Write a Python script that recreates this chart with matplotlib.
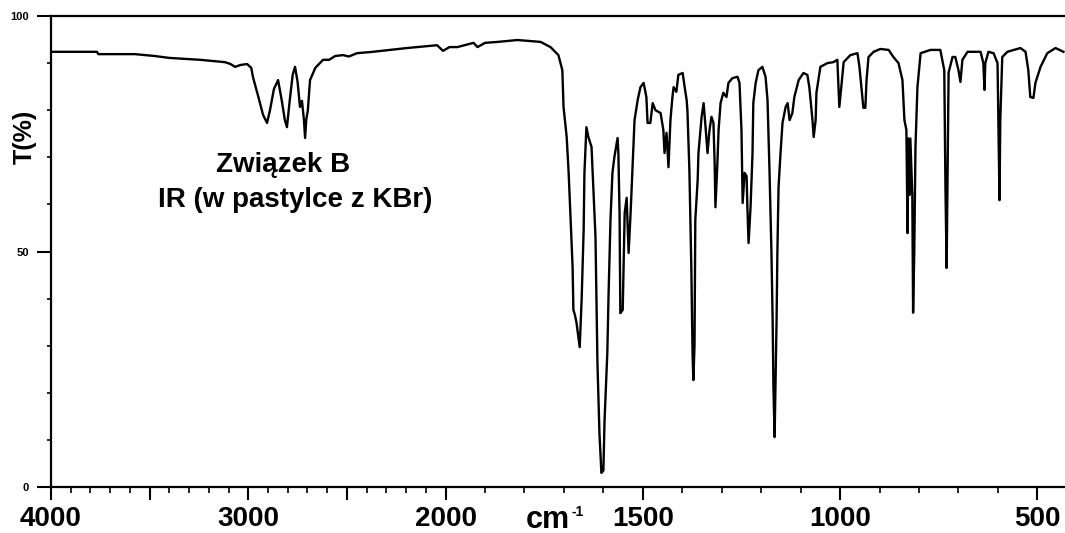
import numpy as np
import matplotlib.pyplot as plt
from matplotlib.ticker import FixedLocator, FixedFormatter

plt.rcParams['font.family'] = ['Liberation Sans', 'DejaVu Sans']
plt.rcParams['font.weight'] = 'bold'

# IR spectrum, compound B (KBr pellet)
wavenumber = [
    3995, 3767, 3760, 3574, 3473, 3400, 3245, 3118, 3090, 3067, 3040, 3006,
    2985, 2976, 2950, 2925, 2905, 2890, 2870, 2849, 2830, 2815, 2804, 2790,
    2775, 2763, 2750, 2738, 2728, 2718, 2712, 2706, 2698, 2687, 2660, 2621,
    2590, 2560, 2520, 2490, 2449, 2368, 2195, 2043, 2013, 1990, 1970, 1929,
    1919, 1900, 1868, 1818, 1759, 1734, 1714, 1704, 1701, 1693, 1688, 1683,
    1678, 1676, 1672, 1668, 1660, 1655, 1650, 1648, 1643, 1638, 1630, 1625,
    1620, 1615, 1610, 1605, 1600, 1597, 1590, 1587, 1582, 1577, 1572, 1564,
    1562, 1559, 1557, 1551, 1546, 1541, 1539, 1536, 1531, 1526, 1521, 1513,
    1506, 1498, 1491, 1488, 1481, 1475, 1468, 1455, 1448, 1445, 1440, 1435,
    1430, 1425, 1422, 1415, 1410, 1399, 1394, 1389, 1387, 1382, 1377, 1374,
    1372, 1369, 1367, 1361, 1359, 1351, 1346, 1341, 1336, 1331, 1326, 1321,
    1318, 1316, 1311, 1308, 1303, 1296, 1288, 1283, 1273, 1260, 1255, 1250,
    1247, 1242, 1237, 1235, 1232, 1227, 1222, 1220, 1214, 1207, 1197, 1189,
    1184, 1179, 1174, 1171, 1169, 1166, 1164, 1161, 1159, 1156, 1151, 1146,
    1138, 1133, 1128, 1121, 1116, 1105, 1093, 1083, 1078, 1070, 1067, 1062,
    1060, 1050, 1032, 1017, 1007, 1004, 1002, 997, 991, 974, 956, 951,
    946, 941, 936, 933, 928, 915, 898, 877, 865, 852, 842, 837,
    832, 829, 827, 824, 822, 817, 815, 812, 809, 804, 796, 771,
    746, 736, 733, 730, 728, 725, 715, 708, 700, 695, 690, 677,
    644, 637, 634, 632, 624, 611, 601, 599, 596, 594, 589, 576,
    543, 530, 523, 518, 510, 505, 492, 475, 454, 434,
]
transmittance = [
    92.4, 92.4, 91.9, 91.9, 91.5, 91.1, 90.7, 90.2, 89.8, 89.2, 89.6, 89.8,
    89.0, 87.0, 83.0, 79.0, 77.3, 80.0, 84.5, 86.4, 82.0, 78.0, 76.4, 82.0,
    87.5, 89.2, 86.0, 80.7, 82.0, 78.0, 74.1, 78.0, 80.0, 86.4, 89.0, 90.7,
    90.7, 91.5, 91.7, 91.4, 92.1, 92.4, 93.2, 93.8, 92.6, 93.4, 93.4, 94.3,
    93.4, 94.3, 94.5, 94.9, 94.5, 93.4, 91.7, 88.5, 80.7, 74.3, 66.7, 56.7,
    46.7, 37.6, 36.5, 34.8, 29.7, 40.0, 54.6, 66.7, 76.4, 74.3, 72.2, 62.4,
    53.1, 26.3, 11.5, 3.0, 3.5, 14.2, 28.5, 40.3, 56.7, 66.7, 70.1, 74.1,
    70.9, 58.2, 36.9, 37.6, 58.2, 61.4, 56.7, 49.7, 58.2, 67.9, 77.9, 82.2,
    84.9, 85.8, 82.8, 77.3, 77.3, 81.5, 80.0, 79.4, 75.8, 70.9, 75.2, 67.9,
    77.9, 82.8, 84.9, 83.9, 87.5, 87.9, 84.9, 82.2, 80.0, 67.3, 46.1, 28.5,
    22.7, 30.0, 56.7, 65.2, 70.9, 78.6, 81.5, 76.4, 70.9, 75.8, 78.6, 77.3,
    68.8, 59.4, 68.8, 75.8, 81.5, 83.7, 82.8, 85.8, 86.8, 87.1, 85.8, 75.8,
    60.3, 66.7, 66.0, 59.4, 51.8, 59.4, 70.9, 81.5, 85.8, 88.5, 89.2, 87.1,
    82.2, 67.3, 49.7, 35.5, 21.2, 10.6, 21.0, 35.5, 49.7, 63.7, 70.9, 77.3,
    80.7, 81.5, 77.9, 79.4, 82.8, 86.4, 87.9, 87.5, 84.9, 77.9, 74.3, 77.9,
    83.7, 89.2, 90.0, 90.2, 90.7, 84.9, 80.7, 84.9, 90.2, 91.7, 92.1, 89.2,
    84.9, 80.5, 80.5, 86.4, 91.3, 92.4, 93.0, 92.8, 91.3, 90.0, 86.4, 77.9,
    75.8, 53.9, 74.0, 62.0, 74.0, 62.0, 37.0, 50.0, 72.2, 84.9, 92.1, 92.8,
    92.8, 88.5, 63.7, 46.5, 63.7, 88.0, 91.3, 91.3, 88.5, 86.0, 90.7, 92.4,
    92.4, 90.0, 84.3, 90.0, 92.4, 92.1, 90.0, 77.9, 60.9, 78.0, 91.3, 92.4,
    93.2, 92.4, 88.5, 82.8, 82.6, 85.8, 89.2, 92.1, 93.2, 92.4,
]

major_ticks = [4000, 3500, 3000, 2500, 2000, 1500, 1000, 500]
major_labels = ['4000', '', '3000', '', '2000', '1500', '1000', '500']
y_ticks = [0, 50, 100]


# below 2000 cm-1 the axis is expanded twice
def fwd(w):
    w = np.asarray(w, dtype=float)
    return np.where(w >= 2000, w, 2 * w - 2000)


def inv(u):
    u = np.asarray(u, dtype=float)
    return np.where(u >= 2000, u, (u + 2000) / 2)


fig = plt.figure(figsize=(10.65, 5.33), dpi=100)
ax = fig.add_axes([51 / 1065, 46 / 533, 1 - 51 / 1065, 471 / 533])

ax.plot(wavenumber, transmittance, color='black', lw=1.7)

ax.set_xscale('function', functions=(fwd, inv))
ax.set_xlim(4000, 430)
ax.set_ylim(0, 100)

ax.xaxis.set_major_locator(FixedLocator(major_ticks))
ax.xaxis.set_major_formatter(FixedFormatter(major_labels))
ax.xaxis.set_minor_locator(FixedLocator(np.arange(4000, 400, -100)))
ax.yaxis.set_major_locator(FixedLocator(y_ticks))
ax.yaxis.set_minor_locator(FixedLocator(np.arange(0, 101, 10)))

ax.tick_params(axis='x', which='major', length=9, width=1.5, pad=5, labelsize=20)
ax.tick_params(axis='x', which='minor', length=4, width=1.2)
ax.tick_params(axis='y', which='major', length=10, width=1.5, pad=6, labelsize=8)
ax.tick_params(axis='y', which='minor', length=3, width=1.2)

for side in ['left', 'bottom', 'top']:
    ax.spines[side].set_linewidth(1.6)
ax.spines['right'].set_visible(False)

fig.text(25 / 1065, (533 - 137) / 533, 'T(%)', rotation=90,
         ha='center', va='center', fontsize=18)
fig.text(548 / 1065, 5 / 533, 'cm', ha='center', va='baseline', fontsize=22)
fig.text(571 / 1065, 17 / 533, '-1', ha='left', va='baseline', fontsize=10)

fig.text(283 / 1065, (533 - 172) / 533, 'Związek B',
         ha='center', va='baseline', fontsize=20)
fig.text(295 / 1065, (533 - 207) / 533, 'IR (w pastylce z KBr)',
         ha='center', va='baseline', fontsize=20)

fig.savefig('out.png', dpi=100)
